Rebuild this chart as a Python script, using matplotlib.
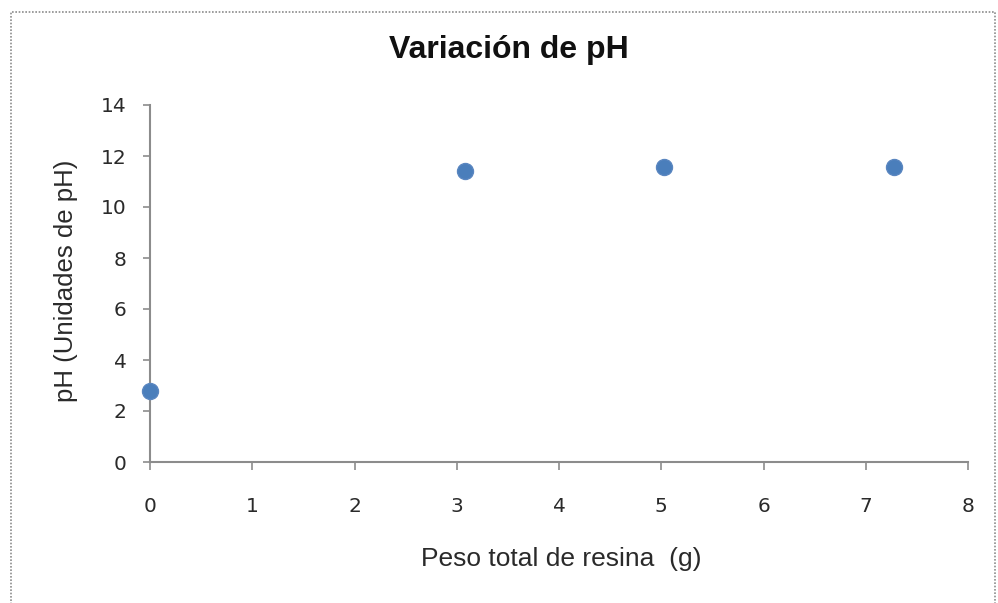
import matplotlib
matplotlib.use("Agg")
import matplotlib.pyplot as plt
from matplotlib.patches import Rectangle

# data
peso = [0.0, 3.08, 5.03, 7.28]
ph = [2.78, 11.42, 11.58, 11.58]
x_ticks = [0, 1, 2, 3, 4, 5, 6, 7, 8]
y_ticks = [0, 2, 4, 6, 8, 10, 12, 14]

plt.rcParams['font.family'] = ['Liberation Sans', 'DejaVu Sans']

W, H = 998, 603
fig = plt.figure(figsize=(W / 100, H / 100), dpi=100)
# dotted chart-area border
fig.patches.append(Rectangle((11 / W, -0.1), 984 / W, 1.1 - 12 / H,
                             transform=fig.transFigure, fill=False,
                             edgecolor='#8c8c8c', linewidth=1.2, linestyle=(0, (1, 1))))

ax = fig.add_axes([150 / W, 1 - 462 / H, 818 / W, 357 / H])
ax.plot(peso, ph, linestyle='none', marker='o', markersize=11.5,
        color='#4a7ebb', markeredgecolor='#5a86c0', clip_on=False, zorder=5)

ax.set_xlim(0, 8)
ax.set_ylim(0, 14)
ax.set_xticks(x_ticks)
ax.set_yticks(y_ticks)
ax.tick_params(axis='both', direction='out', width=1.2, color='#8c8c8c',
               labelsize=14.5, labelcolor='#2a2a2a')
ax.tick_params(axis='x', length=6, pad=19)
ax.tick_params(axis='y', length=5, pad=12)
for lab in ax.get_xticklabels() + ax.get_yticklabels():
    lab.set_family('DejaVu Sans')

for side in ['top', 'right']:
    ax.spines[side].set_visible(False)
for side in ['left', 'bottom']:
    ax.spines[side].set_color('#8c8c8c')
    ax.spines[side].set_linewidth(1.5)

fig.text(561 / W, 1 - 559 / H, 'Peso total de resina  (g)', fontsize=19,
         ha='center', va='center', color='#2a2a2a')
fig.text(66 / W, 1 - 281 / H, 'pH (Unidades de pH)', fontsize=18.5,
         ha='center', va='center', rotation=90, color='#2a2a2a')
fig.text(509 / W, 1 - 50 / H, 'Variación de pH', fontsize=23,
         fontweight='bold', ha='center', va='center', color='#111111')

fig.savefig('out.png', dpi=100)
